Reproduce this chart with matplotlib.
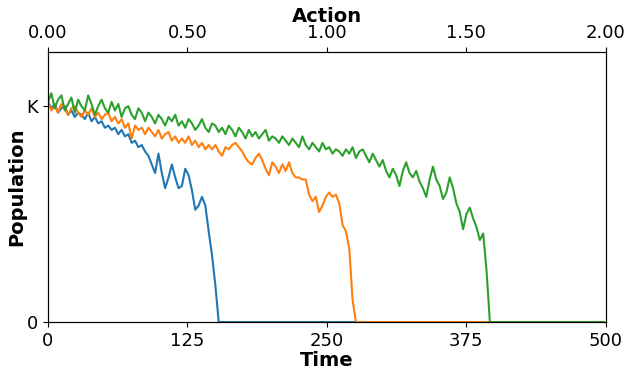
import numpy as np
import matplotlib
matplotlib.use("Agg")
import matplotlib.pyplot as plt

# population in units of K, sampled every 3 time steps until extinction
step = 3
t_end = 500

blue = [1.02, 0.99, 1.01, 0.97, 0.99, 1.00, 0.96, 0.98, 0.95, 0.97,
        0.96, 0.94, 0.97, 0.93, 0.95, 0.92, 0.93, 0.90, 0.91, 0.89,
        0.90, 0.87, 0.89, 0.86, 0.87, 0.83, 0.84, 0.81, 0.82, 0.79,
        0.77, 0.73, 0.69, 0.78, 0.69, 0.62, 0.67, 0.73, 0.67, 0.62,
        0.63, 0.71, 0.68, 0.61, 0.52, 0.54, 0.58, 0.54, 0.42, 0.31,
        0.17, 0.0]

orange = [1.02, 0.98, 1.00, 0.97, 1.01, 0.99, 0.96, 0.99, 1.00, 0.97,
          0.95, 0.98, 0.96, 0.99, 0.95, 0.97, 0.94, 0.96, 0.97, 0.93,
          0.95, 0.92, 0.94, 0.90, 0.92, 0.85, 0.91, 0.89, 0.90, 0.87,
          0.90, 0.88, 0.86, 0.89, 0.85, 0.87, 0.88, 0.84, 0.86, 0.83,
          0.85, 0.83, 0.86, 0.82, 0.84, 0.81, 0.83, 0.80, 0.82, 0.80,
          0.82, 0.79, 0.77, 0.81, 0.80, 0.82, 0.83, 0.81, 0.79, 0.76,
          0.74, 0.73, 0.76, 0.78, 0.75, 0.71, 0.68, 0.74, 0.72, 0.69,
          0.73, 0.70, 0.74, 0.69, 0.67, 0.67, 0.66, 0.66, 0.59, 0.56,
          0.58, 0.51, 0.54, 0.58, 0.60, 0.58, 0.59, 0.55, 0.45, 0.42,
          0.34, 0.10, 0.0]

green = [1.02, 1.06, 0.99, 1.03, 1.05, 0.98, 1.01, 1.04, 0.97, 1.03,
         1.00, 0.98, 1.05, 1.01, 0.96, 1.00, 1.03, 0.99, 0.97, 1.02,
         0.98, 1.01, 0.95, 0.99, 1.00, 0.96, 0.94, 0.99, 0.97, 0.93,
         0.97, 0.95, 0.92, 0.96, 0.94, 0.91, 0.95, 0.93, 0.96, 0.91,
         0.93, 0.90, 0.94, 0.92, 0.89, 0.91, 0.94, 0.90, 0.88, 0.92,
         0.91, 0.88, 0.90, 0.87, 0.91, 0.89, 0.86, 0.90, 0.88, 0.85,
         0.89, 0.86, 0.88, 0.85, 0.87, 0.89, 0.84, 0.86, 0.85, 0.83,
         0.86, 0.84, 0.82, 0.85, 0.83, 0.81, 0.86, 0.82, 0.80, 0.83,
         0.81, 0.79, 0.83, 0.80, 0.81, 0.78, 0.80, 0.79, 0.77, 0.80,
         0.78, 0.81, 0.76, 0.79, 0.80, 0.77, 0.74, 0.78, 0.75, 0.72,
         0.75, 0.70, 0.67, 0.71, 0.68, 0.63, 0.70, 0.74, 0.69, 0.67,
         0.70, 0.65, 0.62, 0.58, 0.66, 0.72, 0.66, 0.63, 0.57, 0.60,
         0.67, 0.62, 0.55, 0.51, 0.43, 0.50, 0.53, 0.48, 0.44, 0.38,
         0.41, 0.24, 0.0]

colors = ["tab:blue", "tab:orange", "tab:green"]

time = np.arange(0, t_end + 1, step)

fig = plt.figure(figsize=(6.34, 3.78), dpi=100)
ax = fig.add_axes([0.0757, 0.148, 0.880, 0.714])

for vals, c in zip([blue, orange, green], colors):
    y = np.zeros(len(time))
    y[:len(vals)] = vals
    ax.plot(time, y, color=c, linewidth=1.5)

ax.set_xlim(0, 500)
ax.set_ylim(0, 1.25)
ax.set_xticks([0, 125, 250, 375, 500])
ax.set_yticks([0, 1])
ax.set_yticklabels(["0", "K"])
ax.tick_params(labelsize=13)
ax.set_xlabel("Time", fontsize=14, fontweight="bold", labelpad=1)
ax.set_ylabel("Population", fontsize=14, fontweight="bold", labelpad=0)

ax2 = ax.twiny()
ax2.set_xlim(0, 2)
ax2.set_xticks([0, 0.5, 1.0, 1.5, 2.0])
ax2.set_xticklabels(["0.00", "0.50", "1.00", "1.50", "2.00"])
ax2.tick_params(labelsize=13)
ax2.set_xlabel("Action", fontsize=14, fontweight="bold", labelpad=2)

fig.savefig("out.png", dpi=100)
